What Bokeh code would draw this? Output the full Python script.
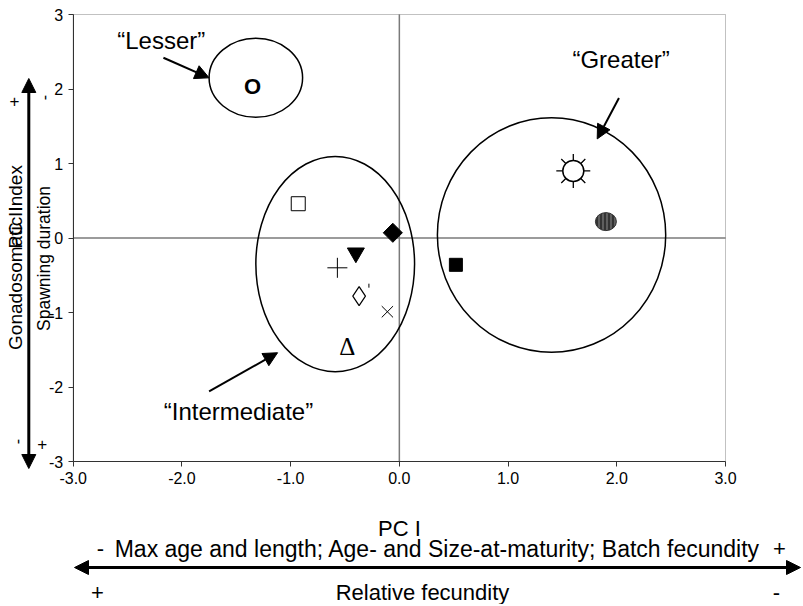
import math
from bokeh.plotting import figure
from bokeh.models import (Range1d, FixedTicker, PrintfTickFormatter, Label, LinearAxis,
                          Arrow, NormalHead, BoxAnnotation)
from bokeh.embed import file_html
from bokeh.resources import INLINE
from bokeh.core.properties import value

FONT = "Liberation Sans"

# ---------------- data ----------------
x_ticks = [-3, -2, -1, 0, 1, 2, 3]
y_ticks = [-3, -2, -1, 0, 1, 2, 3]

open_square_x, open_square_y = [-0.93], [0.46]
filled_diamond_x, filled_diamond_y = [-0.06], [0.07]
down_tri_x, down_tri_y = [-0.40], [-0.20]
plus_x, plus_y = [-0.57], [-0.40]
open_diamond_x, open_diamond_y = [-0.37], [-0.78]
tick_mark_x, tick_mark_y = [-0.28], [-0.64]
cross_x, cross_y = [-0.11], [-0.99]
filled_square_x, filled_square_y = [0.52], [-0.36]
sun_x, sun_y = [1.60], [0.90]
oval_x, oval_y = [1.90], [0.22]
letter_o_x, letter_o_y = [-1.35], [2.03]
delta_x, delta_y = [-0.48], [-1.45]

group_names = ["\u201cLesser\u201d", "\u201cIntermediate\u201d", "\u201cGreater\u201d"]
group_cx = [-1.32, -0.59, 1.40]
group_cy = [2.15, -0.35, 0.04]
group_w = [0.86, 1.46, 2.10]
group_h = [1.06, 2.89, 3.15]

# annotation placement (label position, arrow start, arrow end) in data units
group_label_xy = [(-2.19, 2.65), (-1.48, -2.33), (2.04, 2.39)]
group_arrows = [((-2.17, 2.42), (-1.75, 2.15)),
                ((-1.75, -2.06), (-1.12, -1.54)),
                ((2.02, 1.88), (1.82, 1.33))]

# outer axis descriptions (placement in page pixels): text, x, y, size, rotated
left_texts = [
    ("Gonadosomatic Index", 15, 257, "19px", True),
    ("PC II", 15, 227, "19px", True),
    ("Spawning duration", 43.5, 258, "17.5px", True),
    ("+", 14, 100, "17px", False),
    ("-", 43.3, 97, "16px", True),
    ("-", 16, 441, "16px", True),
    ("+", 41.7, 443, "17px", False),
]
bottom_texts = [
    ("PC I", 399, 528, "22px"),
    ("-", 100, 548, "22px"),
    ("Max age and length; Age- and Size-at-maturity; Batch fecundity", 437, 548, "23px"),
    ("+", 779, 548, "22px"),
    ("+", 97, 592, "22px"),
    ("Relative fecundity", 422, 592, "22px"),
    ("-", 776, 592, "22px"),
]

W, H = 803, 604
# page pixel position of the plot area corners (x=-3..3, y=-3..3)
PX_L, PX_R, PY_T, PY_B = 72.7, 725.0, 14.0, 461.0
XMIN, XMAX = x_ticks[0], x_ticks[-1]
YMIN, YMAX = y_ticks[0], y_ticks[-1]


def dx(px):
    return XMIN + (px - PX_L) * (XMAX - XMIN) / (PX_R - PX_L)


def dy(py):
    return YMIN + (PY_B - py) * (YMAX - YMIN) / (PY_B - PY_T)


p = figure(width=W, height=H, x_range=Range1d(dx(0), dx(W)), y_range=Range1d(dy(H), dy(0)),
           output_backend="svg", toolbar_location=None, min_border=0,
           x_axis_location=None, y_axis_location=None)
p.grid.visible = False
p.outline_line_color = None
p.background_fill_color = "white"
p.border_fill_color = "white"

xaxis = LinearAxis(fixed_location=YMIN, bounds=(XMIN, XMAX),
                   ticker=FixedTicker(ticks=x_ticks),
                   formatter=PrintfTickFormatter(format="%.1f"))
yaxis = LinearAxis(fixed_location=XMIN, bounds=(YMIN, YMAX),
                   ticker=FixedTicker(ticks=y_ticks),
                   formatter=PrintfTickFormatter(format="%d"))
for ax in (xaxis, yaxis):
    ax.major_tick_in = 0
    ax.major_tick_out = 5
    ax.minor_tick_in = 0
    ax.minor_tick_out = 0
    ax.axis_line_color = "#333333"
    ax.major_tick_line_color = "#333333"
    ax.major_label_text_font = FONT
    ax.major_label_text_font_size = "16px"
    ax.major_label_text_color = "black"
    ax.major_label_standoff = 5
p.add_layout(xaxis, "below")
p.add_layout(yaxis, "left")

# plot-area box and zero lines
p.add_layout(BoxAnnotation(left=XMIN, right=XMAX, bottom=YMIN, top=YMAX,
                           fill_color=None, line_color="#333333", line_width=1))
p.segment(x0=[0, XMIN], y0=[YMIN, 0], x1=[0, XMAX], y1=[YMAX, 0],
          line_color="#7a7a7a", line_width=1.5)

p.ellipse(x=group_cx, y=group_cy, width=group_w, height=group_h,
          fill_color=None, line_color="black", line_width=1.5)

p.scatter(open_square_x, open_square_y, marker="square", size=14,
          fill_color="white", line_color="black", line_width=1)
p.scatter(filled_diamond_x, filled_diamond_y, marker="square", angle=math.pi / 4,
          size=13.5, fill_color="black", line_color="black")
p.scatter(down_tri_x, down_tri_y, marker="inverted_triangle", size=17,
          fill_color="black", line_color="black")
p.scatter(plus_x, plus_y, marker="cross", size=20, line_color="black", line_width=1)
p.scatter(open_diamond_x, open_diamond_y, marker="diamond", size=19,
          fill_color=None, line_color="black", line_width=1.2)
p.scatter(tick_mark_x, tick_mark_y, marker="dash", angle=math.pi / 2, size=4,
          line_color="black", line_width=1)
p.scatter(cross_x, cross_y, marker="x", size=16, line_color="black", line_width=1)
p.scatter(filled_square_x, filled_square_y, marker="square", size=13,
          fill_color="black", line_color="black")
p.scatter(sun_x, sun_y, marker="asterisk", size=34, line_color="black", line_width=1.3)
p.scatter(sun_x, sun_y, marker="circle", size=21, fill_color="white",
          line_color="black", line_width=1.5)
p.ellipse(x=oval_x, y=oval_y, width=21, height=18, width_units="screen",
          height_units="screen", fill_color="#333333", line_color="#333333",
          hatch_pattern="|", hatch_color="#8a8a8a", hatch_scale=4, hatch_weight=1)
p.text(x=letter_o_x, y=letter_o_y, text=["O"], text_font=value(FONT),
       text_font_style="bold", text_font_size="22px", text_align="center",
       text_baseline="middle", text_color="black")
p.text(x=delta_x, y=delta_y, text=["\u0394"], text_font=value("Liberation Serif"),
       text_font_size="25px", text_align="center", text_baseline="middle",
       text_color="black")


def head():
    return NormalHead(size=14, fill_color="black", line_color="black")


for name, (lx, ly), ((xs, ys), (xe, ye)) in zip(group_names, group_label_xy, group_arrows):
    p.add_layout(Label(x=lx, y=ly, text=name, text_font=FONT, text_font_size="24px",
                       text_align="center", text_baseline="middle", text_color="black"))
    p.add_layout(Arrow(end=head(), x_start=xs, y_start=ys, x_end=xe, y_end=ye,
                       line_color="black", line_width=2))

# left description (PC II)
for t, x, y, s, rot in left_texts:
    p.add_layout(Label(x=dx(x), y=dy(y), text=t, angle=math.pi / 2 if rot else 0.0,
                       text_font=FONT, text_font_size=s, text_align="center",
                       text_baseline="middle", text_color="black"))
p.add_layout(Arrow(start=head(), end=head(), x_start=dx(28.3), y_start=dy(468),
                   x_end=dx(28.3), y_end=dy(78), line_color="black", line_width=3))

# bottom description (PC I)
for t, x, y, s in bottom_texts:
    p.add_layout(Label(x=dx(x), y=dy(y), text=t, text_font=FONT, text_font_size=s,
                       text_align="center", text_baseline="middle", text_color="black"))
p.add_layout(Arrow(start=head(), end=head(), x_start=dx(74), y_start=dy(567),
                   x_end=dx(800), y_end=dy(567), line_color="black", line_width=3))

open("out.html", "w").write(file_html(p, INLINE))
